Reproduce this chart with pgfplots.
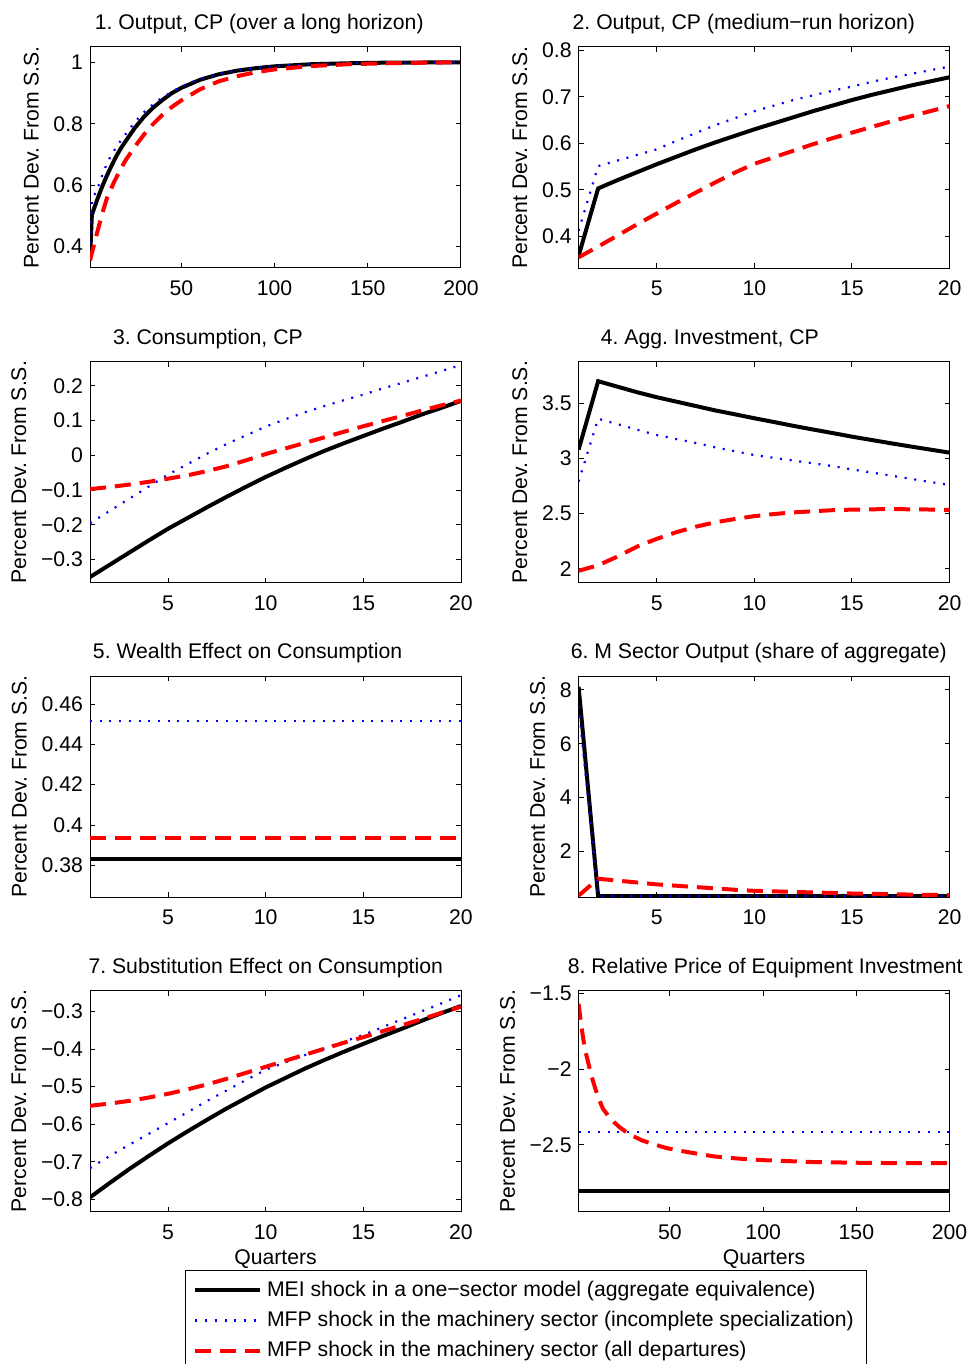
\documentclass[border=0pt]{standalone}
\usepackage{fontspec}
\setmainfont{Liberation Sans}
\usepackage{pgfplots}
\pgfplotsset{compat=1.18}
\frenchspacing
\newcommand{\ff}{\fontsize{10.6}{12.7}\selectfont}

\pgfplotsset{
  irf/.style={
    scale only axis, width=185.5pt, height=110.5pt,
    anchor=north west,
    xmin=1, xmax=20,
    xtick={5,10,15,20}, xticklabels={5,10,15,20},
    tick align=inside, major tick length=2.5pt,
    tick style={black, line width=0.5pt},
    axis line style={line width=0.5pt},
    tick label style={font=\ff},
    xticklabel style={yshift=-3pt},
    ylabel={Percent Dev. From S.S.},
    ylabel style={yshift=0.5pt},
    xlabel style={yshift=2pt},
    label style={font=\ff},
    /pgf/number format/assume math mode=true,
  },
  long/.style={xmin=1, xmax=200, xtick={50,100,150,200}, xticklabels={50,100,150,200}},
  ttl/.style={title style={at={(#1,1)}, anchor=base west, yshift=2.75pt, inner xsep=0pt, font=\ff}},
  mei/.style={black, line width=2pt},
  mfpi/.style={blue, line width=1.1pt, dash pattern=on 1pt off 3.85pt},
  mfpa/.style={red, line width=2pt, dash pattern=on 8pt off 4.5pt},
}

\begin{document}
\begin{tikzpicture}
\useasboundingbox (0,0) rectangle (485.5pt,-682pt);

% 1. Output, long horizon
\begin{axis}[irf, long, at={(45pt,-23.5pt)}, ttl=0.012,
  title={1. Output, CP (over a long horizon)},
  ymin=0.33, ymax=1.05,
  ytick={0.4,0.6,0.8,1}, yticklabels={0.4,0.6,0.8,1}]
\addplot[mei] coordinates {(1,0.355) (2,0.503) (4,0.538) (6,0.571) (8,0.602) (10,0.630) (12,0.656) (14,0.681) (16,0.704) (18,0.724) (20,0.742) (25,0.786) (30,0.823) (35,0.853) (40,0.878) (45,0.900) (50,0.917) (60,0.943) (70,0.961) (80,0.973) (90,0.981) (100,0.987) (120,0.994) (140,0.997) (160,0.999) (180,0.9995) (200,1.0)};
\addplot[mfpi] coordinates {(1,0.412) (2,0.551) (4,0.575) (6,0.605) (8,0.639) (10,0.669) (12,0.693) (14,0.713) (16,0.732) (18,0.749) (20,0.765) (25,0.805) (30,0.838) (35,0.864) (40,0.886) (45,0.904) (50,0.921) (60,0.946) (70,0.962) (80,0.974) (90,0.982) (100,0.988) (120,0.994) (140,0.997) (160,0.999) (180,0.9995) (200,1.0)};
\addplot[mfpa] coordinates {(1,0.355) (2,0.378) (4,0.426) (6,0.472) (8,0.516) (10,0.556) (12,0.584) (14,0.611) (16,0.635) (18,0.658) (20,0.680) (25,0.725) (30,0.765) (35,0.800) (40,0.830) (45,0.855) (50,0.876) (60,0.912) (70,0.938) (80,0.955) (90,0.968) (100,0.977) (120,0.988) (140,0.994) (160,0.997) (180,0.999) (200,1.0)};
\end{axis}

% 2. Output, medium run
\begin{axis}[irf, at={(289.3pt,-23.5pt)}, ttl=-0.017,
  title={2. Output, CP (medium−run horizon)},
  ymin=0.332, ymax=0.807,
  ytick={0.4,0.5,0.6,0.7,0.8}, yticklabels={0.4,0.5,0.6,0.7,0.8}]
\addplot[mei] coordinates {(1,0.358) (2,0.503) (3,0.521) (4,0.538) (5,0.555) (6,0.571) (7,0.587) (8,0.602) (9,0.616) (10,0.630) (11,0.643) (12,0.656) (13,0.669) (14,0.681) (15,0.693) (16,0.704) (17,0.714) (18,0.724) (19,0.733) (20,0.742)};
\addplot[mfpi] coordinates {(1,0.412) (2,0.551) (3,0.563) (4,0.575) (5,0.587) (6,0.605) (7,0.622) (8,0.639) (9,0.654) (10,0.669) (11,0.681) (12,0.693) (13,0.703) (14,0.713) (15,0.722) (16,0.732) (17,0.741) (18,0.749) (19,0.757) (20,0.765)};
\addplot[mfpa] coordinates {(1,0.355) (2,0.378) (3,0.402) (4,0.426) (5,0.449) (6,0.472) (7,0.494) (8,0.516) (9,0.537) (10,0.556) (11,0.570) (12,0.584) (13,0.598) (14,0.611) (15,0.623) (16,0.635) (17,0.647) (18,0.658) (19,0.669) (20,0.680)};
\end{axis}

% 3. Consumption
\begin{axis}[irf, at={(45pt,-180.8pt)}, ttl=0.061,
  title={3. Consumption, CP},
  ymin=-0.366, ymax=0.27,
  ytick={-0.3,-0.2,-0.1,0,0.1,0.2}, yticklabels={−0.3,−0.2,−0.1,0,0.1,0.2}]
\addplot[mei] coordinates {(1,-0.350) (2,-0.315) (3,-0.280) (4,-0.245) (5,-0.211) (6,-0.180) (7,-0.149) (8,-0.119) (9,-0.090) (10,-0.062) (11,-0.036) (12,-0.011) (13,0.013) (14,0.035) (15,0.056) (16,0.077) (17,0.097) (18,0.118) (19,0.137) (20,0.157)};
\addplot[mfpi] coordinates {(1,-0.195) (2,-0.160) (3,-0.125) (4,-0.090) (5,-0.055) (6,-0.025) (7,0.005) (8,0.033) (9,0.058) (10,0.083) (11,0.104) (12,0.124) (13,0.142) (14,0.159) (15,0.175) (16,0.193) (17,0.209) (18,0.226) (19,0.243) (20,0.260)};
\addplot[mfpa] coordinates {(1,-0.097) (2,-0.091) (3,-0.084) (4,-0.076) (5,-0.067) (6,-0.057) (7,-0.045) (8,-0.031) (9,-0.014) (10,0.004) (11,0.020) (12,0.036) (13,0.052) (14,0.068) (15,0.084) (16,0.099) (17,0.114) (18,0.129) (19,0.144) (20,0.158)};
\end{axis}

% 4. Agg. investment
\begin{axis}[irf, at={(289.3pt,-180.8pt)}, ttl=0.059,
  title={4. Agg. Investment, CP},
  ymin=1.873, ymax=3.878,
  ytick={2,2.5,3,3.5}, yticklabels={2,2.5,3,3.5}]
\addplot[mei] coordinates {(1,3.08) (2,3.70) (3,3.65) (4,3.60) (5,3.555) (6,3.515) (7,3.475) (8,3.435) (9,3.40) (10,3.364) (11,3.33) (12,3.295) (13,3.262) (14,3.23) (15,3.197) (16,3.167) (17,3.137) (18,3.108) (19,3.08) (20,3.052)};
\addplot[mfpi] coordinates {(1,2.79) (2,3.36) (3,3.31) (4,3.26) (5,3.212) (6,3.175) (7,3.14) (8,3.10) (9,3.065) (10,3.03) (11,3.005) (12,2.98) (13,2.955) (14,2.93) (15,2.90) (16,2.872) (17,2.843) (18,2.815) (19,2.786) (20,2.758)};
\addplot[mfpa] coordinates {(1,1.98) (2,2.03) (3,2.11) (4,2.20) (5,2.27) (6,2.33) (7,2.38) (8,2.42) (9,2.45) (10,2.476) (11,2.495) (12,2.51) (13,2.52) (14,2.53) (15,2.535) (16,2.538) (17,2.54) (18,2.538) (19,2.536) (20,2.533)};
\end{axis}

% 5. Wealth effect
\begin{axis}[irf, at={(45pt,-338pt)}, ttl=0.007,
  title={5. Wealth Effect on Consumption},
  ymin=0.3643, ymax=0.4739,
  ytick={0.38,0.4,0.42,0.44,0.46}, yticklabels={0.38,0.4,0.42,0.44,0.46}]
\addplot[mei] coordinates {(1,0.3833) (20,0.3833)};
\addplot[mfpi] coordinates {(1,0.4514) (20,0.4514)};
\addplot[mfpa] coordinates {(1,0.3934) (20,0.3934)};
\end{axis}

% 6. M sector output
\begin{axis}[irf, at={(289.3pt,-338pt)}, ttl=-0.022,
  title={6. M Sector Output (share of aggregate)},
  ymin=0.30, ymax=8.52,
  ytick={2,4,6,8}, yticklabels={2,4,6,8}]
\addplot[mei] coordinates {(1,8.12) (2,0.33) (5,0.33) (10,0.33) (15,0.33) (20,0.33)};
\addplot[mfpi] coordinates {(1,7.4) (2,0.33) (5,0.33) (10,0.33) (15,0.33) (20,0.33)};
\addplot[mfpa] coordinates {(1,0.35) (2,0.98) (3,0.91) (4,0.84) (5,0.77) (6,0.72) (7,0.67) (8,0.62) (9,0.57) (10,0.53) (11,0.51) (12,0.49) (13,0.47) (14,0.45) (15,0.43) (16,0.42) (17,0.405) (18,0.39) (19,0.38) (20,0.37)};
\end{axis}

% 7. Substitution effect
\begin{axis}[irf, at={(45pt,-495.3pt)}, ttl=-0.005,
  title={7. Substitution Effect on Consumption},
  ymin=-0.833, ymax=-0.244,
  ytick={-0.8,-0.7,-0.6,-0.5,-0.4,-0.3}, yticklabels={−0.8,−0.7,−0.6,−0.5,−0.4,−0.3},
  xlabel={Quarters},
  legend style={at={(0.256,-0.264)}, anchor=north west, draw=black, line width=0.5pt,
    font=\ff, inner xsep=4pt, inner ysep=3.5pt, row sep=2.3pt,
    nodes={inner xsep=2.3pt, inner ysep=1.8pt}},
  legend cell align=left,
  legend image code/.code={\draw[#1] (0pt,0pt) -- (32.5pt,0pt);}]
\addplot[mei] coordinates {(1,-0.795) (2,-0.757) (3,-0.720) (4,-0.685) (5,-0.651) (6,-0.619) (7,-0.588) (8,-0.558) (9,-0.530) (10,-0.502) (11,-0.477) (12,-0.452) (13,-0.429) (14,-0.407) (15,-0.386) (16,-0.365) (17,-0.345) (18,-0.324) (19,-0.304) (20,-0.285)};
\addlegendentry{MEI shock in a one−sector model (aggregate equivalence)}
\addplot[mfpi] coordinates {(1,-0.717) (2,-0.685) (3,-0.655) (4,-0.626) (5,-0.597) (6,-0.568) (7,-0.538) (8,-0.510) (9,-0.482) (10,-0.455) (11,-0.435) (12,-0.416) (13,-0.398) (14,-0.380) (15,-0.362) (16,-0.341) (17,-0.320) (18,-0.299) (19,-0.278) (20,-0.256)};
\addlegendentry{MFP shock in the machinery sector (incomplete specialization)}
\addplot[mfpa] coordinates {(1,-0.551) (2,-0.545) (3,-0.538) (4,-0.529) (5,-0.519) (6,-0.507) (7,-0.494) (8,-0.479) (9,-0.463) (10,-0.447) (11,-0.431) (12,-0.415) (13,-0.399) (14,-0.383) (15,-0.368) (16,-0.352) (17,-0.336) (18,-0.320) (19,-0.303) (20,-0.287)};
\addlegendentry{MFP shock in the machinery sector (all departures)}
\end{axis}

% 8. Relative price of equipment investment
\begin{axis}[irf, long, at={(289.3pt,-495.3pt)}, ttl=-0.03,
  title={8. Relative Price of Equipment Investment},
  ymin=-2.939, ymax=-1.483,
  ytick={-2.5,-2,-1.5}, yticklabels={−2.5,−2,−1.5},
  xlabel={Quarters}]
\addplot[mei] coordinates {(1,-2.80) (200,-2.80)};
\addplot[mfpi] coordinates {(1,-2.412) (200,-2.412)};
\addplot[mfpa] coordinates {(1,-1.57) (2,-1.67) (3,-1.76) (4,-1.84) (5,-1.90) (6,-1.95) (8,-2.05) (10,-2.13) (12,-2.20) (14,-2.26) (17,-2.31) (20,-2.35) (23,-2.383) (26,-2.41) (30,-2.44) (35,-2.47) (40,-2.49) (48,-2.52) (55,-2.537) (61,-2.55) (74,-2.576) (87,-2.59) (100,-2.60) (125,-2.612) (150,-2.617) (175,-2.62) (200,-2.62)};
\end{axis}
\end{tikzpicture}
\end{document}
